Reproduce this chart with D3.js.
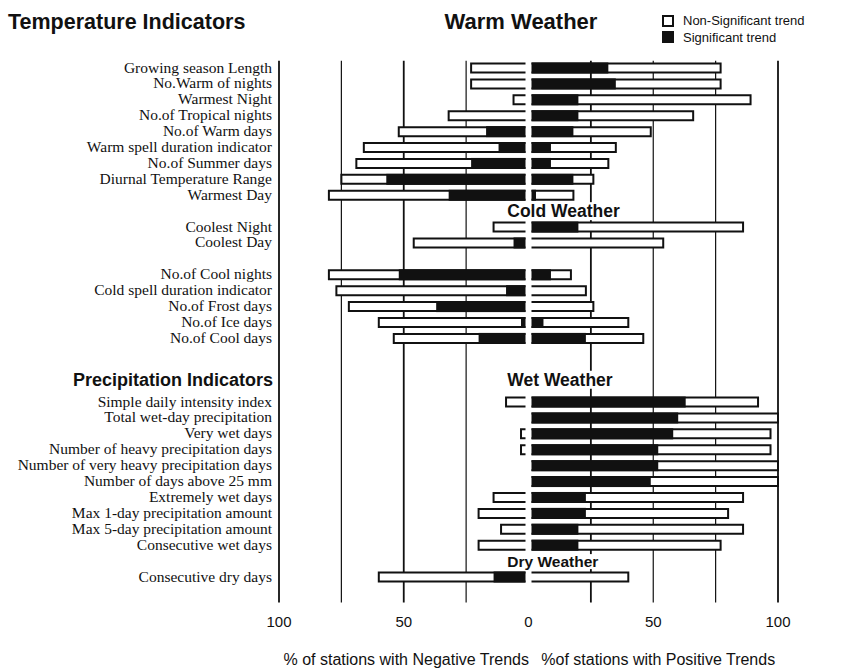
<!DOCTYPE html>
<html lang="en">
<head>
  <meta charset="UTF-8">
  <title>Temperature and Precipitation Indicators</title>
  <script src="https://d3js.org/d3.v7.min.js"></script>
  <style>
    body {
      margin: 0;
      background: #fff;
    }

    .label {
      font: 15.5px "Liberation Serif", "Times New Roman", serif;
      fill: #111;
    }

    .title {
      font-family: "Liberation Sans", Arial, sans-serif;
      font-weight: bold;
      fill: #111;
    }

    .tick-label, .axis-title, .legend-text {
      font-family: "Liberation Sans", Arial, sans-serif;
      fill: #111;
    }

    .grid {
      stroke: #111;
    }
  </style>
</head>
<body>
  <script>
    const width = 856;
    const height = 670;

    // indicator names, top to bottom
    const categories = [
      "Growing season Length", "No.Warm of nights", "Warmest Night", "No.of Tropical nights",
      "No.of Warm days", "Warm spell duration indicator", "No.of Summer days",
      "Diurnal Temperature Range", "Warmest Day",
      "Coolest Night", "Coolest Day",
      "No.of Cool nights", "Cold spell duration indicator", "No.of Frost days",
      "No.of Ice days", "No.of Cool days",
      "Simple daily intensity index", "Total wet-day precipitation", "Very wet days",
      "Number of heavy precipitation days", "Number of very heavy precipitation days",
      "Number of days above 25 mm", "Extremely wet days", "Max 1-day precipitation amount",
      "Max 5-day precipitation amount", "Consecutive wet days",
      "Consecutive dry days"
    ];

    // row slot of each indicator (gaps leave room for the section headings)
    const rowSlots = [0, 1, 2, 3, 4, 5, 6, 7, 8, 10, 11, 13, 14, 15, 16, 17,
      21, 22, 23, 24, 25, 26, 27, 28, 29, 30, 32];

    // % of stations with negative trends: total and significant part
    const negTotal = [23, 23, 6, 32, 52, 66, 69, 75, 80, 14, 46, 80, 77, 72, 60, 54,
      9, 0, 3, 3, 0, 0, 14, 20, 11, 20, 60];
    const negSig = [0, 0, 0, 0, 17, 12, 23, 57, 32, 0, 6, 52, 9, 37, 3, 20,
      0, 0, 0, 0, 0, 0, 0, 0, 0, 0, 14];

    // % of stations with positive trends: total and significant part
    const posTotal = [77, 77, 89, 66, 49, 35, 32, 26, 18, 86, 54, 17, 23, 26, 40, 46,
      92, 100, 97, 97, 100, 100, 86, 80, 86, 77, 40];
    const posSig = [32, 35, 20, 20, 18, 9, 9, 18, 3, 20, 0, 9, 0, 0, 6, 23,
      63, 60, 58, 52, 52, 49, 23, 23, 20, 20, 0];

    const gridValues = [25, 50, 75, 100];
    const tickValues = [100, 50, 0, 50, 100];

    // section headings in the plot area: text, row slot, size
    const sectionNames = ["Cold Weather", "Wet Weather", "Dry Weather"];
    const sectionSlots = [9, 19.6, 31];
    const sectionSizes = [17.5, 17.5, 15.5];

    const svg = d3.select("body").append("svg")
      .attr("width", width).attr("height", height);

    // two half-axes meeting at the centre
    const center = 528.5;
    const xNeg = d3.scaleLinear().domain([0, 100]).range([center, 279]);
    const xPos = d3.scaleLinear().domain([0, 100]).range([center, 778]);
    const y = d3.scaleLinear().domain([0, 32]).range([68, 577]);

    const barH = 9;
    const gap = 3; // white gap on each side of the centre

    const rows = categories.map((name, i) => ({
      name, slot: rowSlots[i],
      negTotal: negTotal[i], negSig: negSig[i],
      posTotal: posTotal[i], posSig: posSig[i]
    }));

    // vertical grid lines (drawn behind the bars)
    const gridTop = y(-0.45);
    const gridBottom = y(33.6);
    const grid = svg.append("g");
    gridValues.forEach(v => {
      grid.append("line").attr("class", "grid")
        .attr("x1", xNeg(v)).attr("x2", xNeg(v))
        .attr("y1", gridTop).attr("y2", gridBottom)
        .attr("stroke-width", v === 50 || v === 100 ? 1.8 : 1.2);
      grid.append("line").attr("class", "grid")
        .attr("x1", xPos(v)).attr("x2", xPos(v))
        .attr("y1", gridTop).attr("y2", gridBottom)
        .attr("stroke-width", v === 25 || v === 100 ? 1.8 : 1.2);
    });

    // outline open on the centre side
    function openBox(xInner, xOuter, yc) {
      const t = yc - barH / 2, b = yc + barH / 2;
      return `M${xInner},${t}H${xOuter}V${b}H${xInner}`;
    }

    const bars = svg.append("g");

    rows.forEach(d => {
      const yc = y(d.slot);
      const nIn = xNeg(0) - gap, pIn = xPos(0) + gap;

      if (d.negTotal > 0) {
        bars.append("rect")
          .attr("x", xNeg(d.negTotal)).attr("y", yc - barH / 2)
          .attr("width", nIn - xNeg(d.negTotal)).attr("height", barH)
          .attr("fill", "#fff");
        bars.append("path")
          .attr("d", openBox(nIn, xNeg(d.negTotal), yc))
          .attr("fill", "none").attr("stroke", "#111").attr("stroke-width", 2);
        if (d.negSig > 0) {
          bars.append("rect")
            .attr("x", xNeg(d.negSig)).attr("y", yc - barH / 2 - 1)
            .attr("width", nIn - xNeg(d.negSig)).attr("height", barH + 2)
            .attr("fill", "#111");
        }
      }

      if (d.posTotal > 0) {
        bars.append("rect")
          .attr("x", pIn).attr("y", yc - barH / 2)
          .attr("width", xPos(d.posTotal) - pIn).attr("height", barH)
          .attr("fill", "#fff");
        bars.append("path")
          .attr("d", openBox(pIn, xPos(d.posTotal), yc))
          .attr("fill", "none").attr("stroke", "#111").attr("stroke-width", 2);
        if (d.posSig > 0) {
          bars.append("rect")
            .attr("x", pIn).attr("y", yc - barH / 2 - 1)
            .attr("width", xPos(d.posSig) - pIn).attr("height", barH + 2)
            .attr("fill", "#111");
        }
      }
    });

    // indicator labels
    svg.append("g").selectAll("text")
      .data(rows)
      .join("text")
      .attr("class", "label")
      .attr("x", xNeg(100) - 7)
      .attr("y", d => y(d.slot) + 4.5)
      .attr("text-anchor", "end")
      .text(d => d.name);

    // section headings inside the plot, with a white knock-out behind them
    sectionNames.forEach((name, i) => {
      const g = svg.append("g");
      const t = g.append("text").attr("class", "title")
        .attr("x", xNeg(8.5)).attr("y", y(sectionSlots[i]) + 6)
        .style("font-size", sectionSizes[i] + "px")
        .text(name);
      const bb = t.node().getBBox();
      g.insert("rect", "text")
        .attr("x", bb.x - 1).attr("y", bb.y + 1)
        .attr("width", bb.width + 2).attr("height", bb.height - 2)
        .attr("fill", "#fff");
    });

    // main titles
    svg.append("text").attr("class", "title")
      .attr("x", 8).attr("y", 29)
      .style("font-size", "21.5px")
      .text("Temperature Indicators");

    svg.append("text").attr("class", "title")
      .attr("x", xNeg(3)).attr("y", 29)
      .attr("text-anchor", "middle")
      .style("font-size", "22px")
      .text("Warm Weather");

    svg.append("text").attr("class", "title")
      .attr("x", xNeg(100) - 6).attr("y", y(19.6) + 6)
      .attr("text-anchor", "end")
      .style("font-size", "18px")
      .text("Precipitation Indicators");

    // legend
    const legend = svg.append("g").attr("transform", "translate(662, 15)");
    legend.append("rect")
      .attr("x", 1).attr("y", 1).attr("width", 10).attr("height", 10)
      .attr("fill", "#fff").attr("stroke", "#111").attr("stroke-width", 2);
    legend.append("text").attr("class", "legend-text")
      .attr("x", 21).attr("y", 10).style("font-size", "13px")
      .text("Non-Significant trend");
    legend.append("rect")
      .attr("x", 0).attr("y", 16).attr("width", 12).attr("height", 12)
      .attr("fill", "#111");
    legend.append("text").attr("class", "legend-text")
      .attr("x", 21).attr("y", 27).style("font-size", "13px")
      .text("Significant trend");

    // tick labels: 100 50 0 on the negative side, 50 100 on the positive side
    const tickX = [xNeg(100), xNeg(50), center, xPos(50), xPos(100)];
    svg.append("g").selectAll("text")
      .data(tickValues)
      .join("text")
      .attr("class", "tick-label")
      .attr("x", (d, i) => tickX[i])
      .attr("y", 627)
      .attr("text-anchor", "middle")
      .style("font-size", "15px")
      .text(d => d);

    svg.append("text").attr("class", "axis-title")
      .attr("x", xNeg(49)).attr("y", 665)
      .attr("text-anchor", "middle")
      .style("font-size", "16px")
      .text("% of stations with Negative Trends");

    svg.append("text").attr("class", "axis-title")
      .attr("x", xPos(52)).attr("y", 665)
      .attr("text-anchor", "middle")
      .style("font-size", "16px")
      .text("%of stations with Positive Trends");
  </script>
</body>
</html>
